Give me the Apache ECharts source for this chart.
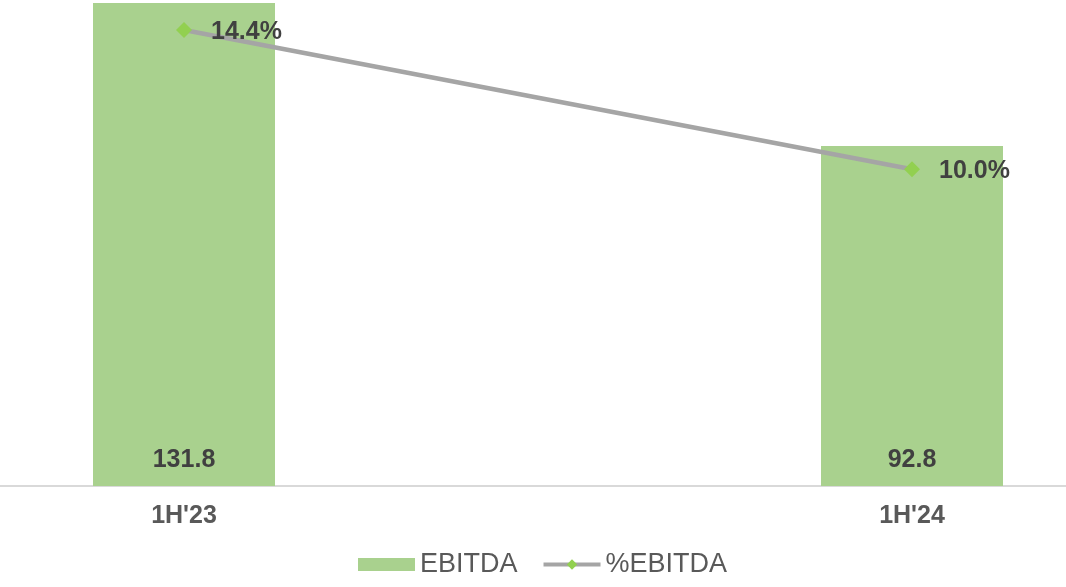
<!DOCTYPE html>
<html>
<head>
<meta charset="utf-8">
<script src="https://cdn.jsdelivr.net/npm/echarts@6/dist/echarts.min.js"></script>
<style>
  html, body { margin: 0; padding: 0; background: #fff; }
  #chart { width: 1066px; height: 587px; }
</style>
</head>
<body>
<div id="chart"></div>
<script>
// data
var categories = ["1H'23", "1H'24"];
var ebitda = [131.8, 92.8];
var ebitdaPct = [14.4, 10.0];

var labelColor = '#404040';
var fontFam = '"Liberation Sans", Arial, sans-serif';

var chart = echarts.init(document.getElementById('chart'));
chart.setOption({
    backgroundColor: '#fff',
    animation: false,
    textStyle: { fontFamily: fontFam },
    grid: { left: -180, right: -210, top: 3, bottom: 101, outerBoundsMode: 'none', containLabel: false },
    legend: {
        left: 353,
        bottom: 4,
        itemWidth: 57,
        itemHeight: 13,
        itemGap: 24,
        textStyle: { fontSize: 27, color: '#595959', fontFamily: fontFam },
        data: [
            { name: 'EBITDA', icon: 'rect' },
            { name: '%EBITDA', lineStyle: { width: 4, color: '#a5a5a5' } }
        ]
    },
    xAxis: {
        type: 'category',
        data: categories,
        axisTick: { show: false },
        axisLine: { lineStyle: { color: '#d9d9d9', width: 2 } },
        axisLabel: { fontSize: 25, fontWeight: 'bold', color: '#595959', margin: 18 }
    },
    yAxis: [{
        type: 'value', min: 0, max: 131.8,
        show: false, splitLine: { show: false }
    }, {
        type: 'value', min: 0, max: 15.25,
        show: false, splitLine: { show: false }
    }],
    series: [{
        name: 'EBITDA',
        type: 'bar',
        barWidth: 182,
        data: ebitda,
        itemStyle: { color: '#a9d18e' },
        label: {
            show: true,
            position: 'insideBottom',
            distance: 13,
            fontSize: 25,
            fontWeight: 'bold',
            color: labelColor,
            formatter: function (p) { return p.value.toFixed(1); }
        }
    }, {
        name: '%EBITDA',
        type: 'line',
        yAxisIndex: 1,
        data: ebitdaPct,
        symbol: 'diamond',
        symbolSize: 16,
        lineStyle: { color: '#a5a5a5', width: 4.5 },
        itemStyle: { color: '#92d050' },
        label: {
            show: true,
            position: 'right',
            distance: 19,
            offset: [0, 2],
            fontSize: 25,
            fontWeight: 'bold',
            color: labelColor,
            formatter: function (p) { return p.value.toFixed(1) + '%'; }
        }
    }]
});
</script>
</body>
</html>
